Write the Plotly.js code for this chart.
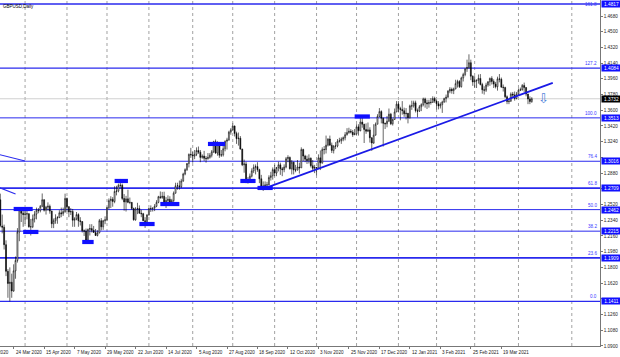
<!DOCTYPE html>
<html><head><meta charset="utf-8">
<script src="https://cdn.plot.ly/plotly-3.0.1.min.js"></script>
<style>html,body{margin:0;padding:0;background:#fff;}#chart{width:620px;height:357px;}</style>
</head><body><div id="chart"></div>
<script>
// ---- DATA (GBPUSD, Daily) ----
const dates = [
'2020-03-13','2020-03-16','2020-03-17','2020-03-18','2020-03-19','2020-03-20','2020-03-23','2020-03-24','2020-03-25','2020-03-26','2020-03-27','2020-03-30','2020-03-31',
'2020-04-01','2020-04-02','2020-04-03','2020-04-06','2020-04-07','2020-04-08','2020-04-09','2020-04-10','2020-04-13','2020-04-14','2020-04-15','2020-04-16','2020-04-17','2020-04-20','2020-04-21','2020-04-22','2020-04-23','2020-04-24','2020-04-27','2020-04-28','2020-04-29','2020-04-30',
'2020-05-01','2020-05-04','2020-05-05','2020-05-06','2020-05-07','2020-05-08','2020-05-11','2020-05-12','2020-05-13','2020-05-14','2020-05-15','2020-05-18','2020-05-19','2020-05-20','2020-05-21','2020-05-22','2020-05-25','2020-05-26','2020-05-27','2020-05-28','2020-05-29',
'2020-06-01','2020-06-02','2020-06-03','2020-06-04','2020-06-05','2020-06-08','2020-06-09','2020-06-10','2020-06-11','2020-06-12','2020-06-15','2020-06-16','2020-06-17','2020-06-18','2020-06-19','2020-06-22','2020-06-23','2020-06-24','2020-06-25','2020-06-26','2020-06-29','2020-06-30',
'2020-07-01','2020-07-02','2020-07-03','2020-07-06','2020-07-07','2020-07-08','2020-07-09','2020-07-10','2020-07-13','2020-07-14','2020-07-15','2020-07-16','2020-07-17','2020-07-20','2020-07-21','2020-07-22','2020-07-23','2020-07-24','2020-07-27','2020-07-28','2020-07-29','2020-07-30','2020-07-31',
'2020-08-03','2020-08-04','2020-08-05','2020-08-06','2020-08-07','2020-08-10','2020-08-11','2020-08-12','2020-08-13','2020-08-14','2020-08-17','2020-08-18','2020-08-19','2020-08-20','2020-08-21','2020-08-24','2020-08-25','2020-08-26','2020-08-27','2020-08-28','2020-08-31',
'2020-09-01','2020-09-02','2020-09-03','2020-09-04','2020-09-07','2020-09-08','2020-09-09','2020-09-10','2020-09-11','2020-09-14','2020-09-15','2020-09-16','2020-09-17','2020-09-18','2020-09-21','2020-09-22','2020-09-23','2020-09-24','2020-09-25','2020-09-28','2020-09-29','2020-09-30',
'2020-10-01','2020-10-02','2020-10-05','2020-10-06','2020-10-07','2020-10-08','2020-10-09','2020-10-12','2020-10-13','2020-10-14','2020-10-15','2020-10-16','2020-10-19','2020-10-20','2020-10-21','2020-10-22','2020-10-23','2020-10-26','2020-10-27','2020-10-28','2020-10-29','2020-10-30',
'2020-11-02','2020-11-03','2020-11-04','2020-11-05','2020-11-06','2020-11-09','2020-11-10','2020-11-11','2020-11-12','2020-11-13','2020-11-16','2020-11-17','2020-11-18','2020-11-19','2020-11-20','2020-11-23','2020-11-24','2020-11-25','2020-11-26','2020-11-27','2020-11-30',
'2020-12-01','2020-12-02','2020-12-03','2020-12-04','2020-12-07','2020-12-08','2020-12-09','2020-12-10','2020-12-11','2020-12-14','2020-12-15','2020-12-16','2020-12-17','2020-12-18','2020-12-21','2020-12-22','2020-12-23','2020-12-24','2020-12-28','2020-12-29','2020-12-30','2020-12-31',
'2021-01-04','2021-01-05','2021-01-06','2021-01-07','2021-01-08','2021-01-11','2021-01-12','2021-01-13','2021-01-14','2021-01-15','2021-01-18','2021-01-19','2021-01-20','2021-01-21','2021-01-22','2021-01-25','2021-01-26','2021-01-27','2021-01-28','2021-01-29',
'2021-02-01','2021-02-02','2021-02-03','2021-02-04','2021-02-05','2021-02-08','2021-02-09','2021-02-10','2021-02-11','2021-02-12','2021-02-15','2021-02-16','2021-02-17','2021-02-18','2021-02-19','2021-02-22','2021-02-23','2021-02-24','2021-02-25','2021-02-26',
'2021-03-01','2021-03-02','2021-03-03','2021-03-04','2021-03-05','2021-03-08','2021-03-09','2021-03-10','2021-03-11','2021-03-12','2021-03-15','2021-03-16','2021-03-17','2021-03-18','2021-03-19','2021-03-22','2021-03-23','2021-03-24','2021-03-25','2021-03-26','2021-03-29','2021-03-30','2021-03-31',
'2021-04-01','2021-04-02','2021-04-05','2021-04-06','2021-04-07','2021-04-08','2021-04-09','2021-04-12'];

const open = [
1.2575,1.2275,1.2260,1.2060,1.1755,1.1615,1.1630,1.1530,1.1760,1.1880,1.2205,1.2460,1.2420,
1.2405,1.2410,1.2415,1.2265,1.2265,1.2355,1.2410,1.2455,1.2450,1.2500,1.2575,1.2455,1.2490,1.2500,1.2445,1.2300,1.2335,1.2365,1.2370,1.2425,1.2415,1.2440,
1.2590,1.2495,1.2435,1.2440,1.2340,1.2355,1.2405,1.2335,1.2325,1.2220,1.2215,1.2110,1.2235,1.2245,1.2225,1.2200,1.2165,1.2195,1.2335,1.2265,1.2335,
1.2345,1.2485,1.2565,1.2580,1.2555,1.2670,1.2675,1.2740,1.2740,1.2590,1.2550,1.2585,1.2545,1.2545,1.2475,1.2345,1.2470,1.2475,1.2420,1.2415,1.2335,1.2325,
1.2400,1.2475,1.2475,1.2480,1.2500,1.2545,1.2610,1.2600,1.2615,1.2550,1.2565,1.2580,1.2545,1.2565,1.2650,1.2735,1.2735,1.2725,1.2790,1.2870,1.2920,1.2990,1.3095,
1.3090,1.3075,1.3095,1.3140,1.3120,1.3060,1.3075,1.3050,1.3045,1.3060,1.3085,1.3125,1.3240,1.3110,1.3225,1.3085,1.3090,1.3160,1.3245,1.3260,1.3350,
1.3375,1.3420,1.3335,1.3275,1.3280,1.3155,1.2975,1.2985,1.2790,1.2795,1.2845,1.2905,1.2945,1.2955,1.2920,1.2815,1.2730,1.2730,1.2745,1.2745,1.2830,1.2850,
1.2920,1.2880,1.2945,1.2975,1.2930,1.2920,1.2950,1.3045,1.3060,1.2930,1.3005,1.2915,1.2915,1.2950,1.2940,1.3150,1.3075,1.3040,1.3025,1.3050,1.2965,1.2935,
1.2945,1.2935,1.3055,1.2995,1.3150,1.3150,1.3200,1.3270,1.3200,1.3140,1.3190,1.3190,1.3245,1.3250,1.3270,1.3285,1.3320,1.3345,1.3360,1.3350,1.3320,
1.3330,1.3410,1.3365,1.3465,1.3440,1.3380,1.3360,1.3375,1.3285,1.3225,1.3315,1.3440,1.3530,1.3585,1.3510,1.3450,1.3445,1.3475,1.3555,1.3445,1.3495,1.3580,
1.3670,1.3620,1.3610,1.3595,1.3560,1.3565,1.3515,1.3650,1.3650,1.3685,1.3595,1.3590,1.3640,1.3665,1.3730,1.3685,1.3675,1.3690,1.3690,1.3735,
1.3705,1.3675,1.3650,1.3665,1.3695,1.3735,1.3750,1.3820,1.3840,1.3825,1.3845,1.3905,1.3930,1.3870,1.3970,1.4010,1.4075,1.4090,1.4145,1.3990,
1.3925,1.3935,1.3945,1.3965,1.3895,1.3835,1.3830,1.3890,1.3925,1.3965,1.3930,1.3900,1.3870,1.3960,1.3955,1.3865,1.3860,1.3755,1.3700,1.3705,1.3785,1.3775,1.3735,
1.3785,1.3830,1.3835,1.3885,1.3860,1.3785,1.3730,1.3700];

const high = [
1.2645,1.2405,1.2290,1.2110,1.1780,1.1800,1.1728,1.1835,1.1925,1.2250,1.2485,1.2485,1.2475,
1.2445,1.2460,1.2420,1.2355,1.2405,1.2445,1.2485,1.2480,1.2515,1.2647,1.2580,1.2505,1.2545,1.2520,1.2450,1.2360,1.2408,1.2387,1.2455,1.2485,1.2485,1.2645,
1.2600,1.2500,1.2480,1.2470,1.2375,1.2435,1.2420,1.2375,1.2330,1.2235,1.2245,1.2245,1.2295,1.2295,1.2275,1.2240,1.2225,1.2355,1.2365,1.2345,1.2385,
1.2495,1.2590,1.2615,1.2605,1.2730,1.2735,1.2760,1.2813,1.2760,1.2640,1.2620,1.2690,1.2600,1.2545,1.2485,1.2490,1.2540,1.2510,1.2460,1.2425,1.2375,1.2410,
1.2480,1.2510,1.2485,1.2525,1.2570,1.2620,1.2670,1.2665,1.2667,1.2605,1.2625,1.2615,1.2585,1.2670,1.2770,1.2770,1.2795,1.2815,1.2885,1.2935,1.2995,1.3105,1.3170,
1.3125,1.3145,1.3175,1.3185,1.3145,1.3095,1.3135,1.3075,1.3110,1.3110,1.3145,1.3250,1.3265,1.3245,1.3235,1.3145,1.3190,1.3255,1.3285,1.3365,1.3395,
1.3450,1.3425,1.3355,1.3345,1.3305,1.3160,1.3035,1.3010,1.2835,1.2875,1.2935,1.2980,1.2980,1.3005,1.2930,1.2860,1.2785,1.2785,1.2780,1.2855,1.2895,1.2945,
1.2975,1.2950,1.3010,1.3000,1.2950,1.2980,1.3065,1.3085,1.3070,1.3030,1.3010,1.2975,1.3030,1.3000,1.3175,1.3160,1.3090,1.3080,1.3095,1.3060,1.3030,1.2975,
1.2950,1.3095,1.3140,1.3175,1.3190,1.3310,1.3280,1.3310,1.3230,1.3200,1.3235,1.3270,1.3285,1.3290,1.3300,1.3350,1.3395,1.3400,1.3385,1.3375,1.3385,
1.3440,1.3440,1.3540,1.3540,1.3445,1.3450,1.3460,1.3405,1.3290,1.3440,1.3460,1.3555,1.3625,1.3600,1.3515,1.3460,1.3535,1.3620,1.3570,1.3505,1.3620,1.3705,
1.3705,1.3640,1.3705,1.3630,1.3625,1.3570,1.3665,1.3710,1.3710,1.3710,1.3620,1.3660,1.3680,1.3745,1.3745,1.3720,1.3720,1.3740,1.3760,1.3755,
1.3720,1.3705,1.3690,1.3710,1.3745,1.3780,1.3830,1.3865,1.3860,1.3860,1.3950,1.3950,1.3945,1.3985,1.4030,1.4080,1.4180,1.4241,1.4180,1.4000,
1.3990,1.3950,1.4010,1.4015,1.3915,1.3875,1.3915,1.3935,1.3975,1.3990,1.3955,1.3925,1.3985,1.4015,1.3975,1.3895,1.3870,1.3770,1.3730,1.3805,1.3810,1.3815,1.3810,
1.3850,1.3860,1.3900,1.3917,1.3865,1.3790,1.3760,1.3750];

const low = [
1.2260,1.2190,1.2005,1.1700,1.1452,1.1411,1.1452,1.1520,1.1670,1.1855,1.2100,1.2320,1.2265,
1.2300,1.2350,1.2255,1.2165,1.2250,1.2315,1.2350,1.2420,1.2430,1.2490,1.2440,1.2405,1.2450,1.2415,1.2250,1.2250,1.2300,1.2300,1.2365,1.2375,1.2390,1.2425,
1.2440,1.2375,1.2400,1.2265,1.2265,1.2340,1.2265,1.2280,1.2200,1.2160,1.2090,1.2075,1.2165,1.2200,1.2195,1.2160,1.2155,1.2190,1.2225,1.2230,1.2295,
1.2330,1.2465,1.2480,1.2495,1.2535,1.2625,1.2660,1.2715,1.2570,1.2450,1.2440,1.2535,1.2525,1.2460,1.2335,1.2335,1.2410,1.2415,1.2375,1.2330,1.2252,1.2290,
1.2395,1.2435,1.2440,1.2445,1.2490,1.2535,1.2585,1.2585,1.2520,1.2480,1.2525,1.2535,1.2505,1.2545,1.2645,1.2690,1.2690,1.2710,1.2780,1.2855,1.2905,1.2945,1.3055,
1.3000,1.3040,1.3075,1.3100,1.3005,1.3045,1.3020,1.3000,1.3035,1.3045,1.3060,1.3110,1.3100,1.3080,1.3055,1.3065,1.3070,1.3130,1.3150,1.3250,1.3320,
1.3365,1.3300,1.3215,1.3195,1.3150,1.2960,1.2885,1.2765,1.2760,1.2780,1.2830,1.2880,1.2865,1.2895,1.2765,1.2715,1.2676,1.2690,1.2695,1.2740,1.2795,1.2805,
1.2845,1.2845,1.2900,1.2860,1.2845,1.2890,1.2935,1.3005,1.2920,1.2865,1.2865,1.2890,1.2910,1.2875,1.2940,1.3015,1.3005,1.2985,1.2990,1.2945,1.2915,1.2880,
1.2855,1.2925,1.2915,1.2990,1.3095,1.3105,1.3185,1.3195,1.3110,1.3105,1.3155,1.3175,1.3230,1.3215,1.3245,1.3255,1.3310,1.3330,1.3335,1.3295,1.3315,
1.3320,1.3310,1.3360,1.3400,1.3225,1.3330,1.3350,1.3230,1.3135,1.3215,1.3310,1.3440,1.3520,1.3450,1.3185,1.3385,1.3405,1.3465,1.3430,1.3425,1.3490,1.3580,
1.3575,1.3485,1.3550,1.3525,1.3495,1.3450,1.3505,1.3605,1.3630,1.3575,1.3520,1.3580,1.3590,1.3645,1.3630,1.3615,1.3630,1.3665,1.3685,1.3685,
1.3610,1.3610,1.3620,1.3570,1.3685,1.3690,1.3745,1.3795,1.3790,1.3785,1.3840,1.3860,1.3855,1.3860,1.3930,1.3990,1.4040,1.4075,1.3945,1.3880,
1.3860,1.3855,1.3905,1.3885,1.3790,1.3780,1.3810,1.3870,1.3880,1.3895,1.3855,1.3850,1.3825,1.3920,1.3860,1.3815,1.3740,1.3670,1.3670,1.3695,1.3740,1.3710,1.3725,
1.3765,1.3820,1.3825,1.3810,1.3760,1.3670,1.3670,1.3685];

const close = [
1.2280,1.2260,1.2060,1.1755,1.1615,1.1630,1.1530,1.1760,1.1880,1.2205,1.2460,1.2420,1.2405,
1.2410,1.2415,1.2265,1.2265,1.2355,1.2410,1.2455,1.2450,1.2500,1.2575,1.2455,1.2490,1.2500,1.2445,1.2300,1.2335,1.2365,1.2370,1.2425,1.2415,1.2440,1.2590,
1.2495,1.2435,1.2440,1.2340,1.2355,1.2405,1.2335,1.2325,1.2220,1.2215,1.2110,1.2235,1.2245,1.2225,1.2200,1.2165,1.2195,1.2335,1.2265,1.2335,1.2345,
1.2485,1.2565,1.2580,1.2555,1.2670,1.2675,1.2740,1.2740,1.2590,1.2550,1.2585,1.2545,1.2545,1.2475,1.2345,1.2470,1.2475,1.2420,1.2415,1.2335,1.2325,1.2400,
1.2475,1.2475,1.2480,1.2500,1.2545,1.2610,1.2600,1.2615,1.2550,1.2565,1.2580,1.2545,1.2565,1.2650,1.2735,1.2735,1.2725,1.2790,1.2870,1.2920,1.2990,1.3095,1.3090,
1.3075,1.3095,1.3140,1.3120,1.3060,1.3075,1.3050,1.3045,1.3060,1.3085,1.3125,1.3240,1.3110,1.3225,1.3085,1.3090,1.3160,1.3245,1.3260,1.3350,1.3375,
1.3420,1.3335,1.3275,1.3280,1.3155,1.2975,1.2985,1.2790,1.2795,1.2845,1.2905,1.2945,1.2955,1.2920,1.2815,1.2730,1.2730,1.2745,1.2745,1.2830,1.2850,1.2920,
1.2880,1.2945,1.2975,1.2930,1.2920,1.2950,1.3045,1.3060,1.2930,1.3005,1.2915,1.2915,1.2950,1.2940,1.3150,1.3075,1.3040,1.3025,1.3050,1.2965,1.2935,1.2945,
1.2935,1.3055,1.2995,1.3150,1.3150,1.3200,1.3270,1.3200,1.3140,1.3190,1.3190,1.3245,1.3250,1.3270,1.3285,1.3320,1.3345,1.3360,1.3350,1.3320,1.3330,
1.3410,1.3365,1.3465,1.3440,1.3380,1.3360,1.3375,1.3285,1.3225,1.3315,1.3440,1.3530,1.3585,1.3510,1.3450,1.3445,1.3475,1.3555,1.3445,1.3495,1.3580,1.3670,
1.3620,1.3610,1.3595,1.3560,1.3565,1.3515,1.3650,1.3650,1.3685,1.3595,1.3590,1.3640,1.3665,1.3730,1.3685,1.3675,1.3690,1.3690,1.3735,1.3705,
1.3675,1.3650,1.3665,1.3695,1.3735,1.3750,1.3820,1.3840,1.3825,1.3845,1.3905,1.3930,1.3870,1.3970,1.4010,1.4075,1.4090,1.4145,1.3990,1.3925,
1.3935,1.3945,1.3965,1.3895,1.3835,1.3830,1.3890,1.3925,1.3965,1.3930,1.3900,1.3870,1.3960,1.3955,1.3865,1.3860,1.3755,1.3700,1.3705,1.3785,1.3775,1.3735,1.3785,
1.3830,1.3835,1.3885,1.3860,1.3785,1.3730,1.3700,1.3732];

const tickDates  = ['2020-03-24','2020-04-15','2020-05-07','2020-05-29','2020-06-22','2020-07-14','2020-08-05','2020-08-27','2020-09-18','2020-10-12','2020-11-03','2020-11-25','2020-12-17','2021-01-12','2021-02-03','2021-02-25','2021-03-19'];
const tickLabels = ['24 Mar 2020','15 Apr 2020','7 May 2020','29 May 2020','22 Jun 2020','14 Jul 2020','5 Aug 2020','27 Aug 2020','18 Sep 2020','12 Oct 2020','3 Nov 2020','25 Nov 2020','17 Dec 2020','12 Jan 2021','3 Feb 2021','25 Feb 2021','19 Mar 2021'];
const offscreenLabel = '2 Mar 2020';   // previous label, 16 bars before the first one
const yTicks = [1.0900,1.1080,1.1260,1.1440,1.1620,1.1800,1.1980,1.2160,1.2340,1.2520,1.2700,1.2880,1.3060,1.3240,1.3420,1.3600,1.3780,1.3960,1.4140,1.4320,1.4500,1.4680];

const fibLevels = [1.4817,1.4084,1.3513,1.3016,1.2709,1.2462,1.2215,1.1909,1.1411];
const fibNames  = ['161.8','127.2','100.0','76.4','61.8','50.0','38.2','23.6','0.0'];
const currentPrice = 1.3732;

// trend line (bar index, price)
const trendBars = [138, 290];
const trendPrices = [1.2700, 1.3913];
// older trend lines entering from the left
const oldLine1Bars = [-1, 13], oldLine1Prices = [1.3095, 1.3019];
const oldLine2Bars = [-1, 8],  oldLine2Prices = [1.2717, 1.2641];
// level boxes (start bar, end bar, price)
const boxStart = [7, 12, 43, 60, 73, 84, 109, 126, 135, 186];
const boxEnd   = [17, 20, 49, 67, 81, 94, 118, 134, 143, 194];
const boxPrice = [1.2469, 1.2206, 1.2091, 1.2790, 1.2297, 1.2526, 1.3214, 1.2790, 1.2710, 1.3529];
const arrowBar = 285;
const extraSeparatorBar = 300;

// ---- STYLES ----
const FONT = 'Liberation Sans, Arial, sans-serif';
const BLUE = '#2a2aee';
const fibWidths = [1.6, 1.2, 1.0, 1.2, 1.8, 1.0, 1.0, 1.8, 1.2];
const AXFONT = {family: FONT, size: 4.6, color: '#222'};

const idx = dates.map((d, i) => i);
const xRange = [-0.16, 314.8];
const yRange = [1.08995, 1.48633];

const traces = [
  {type: 'candlestick', x: idx, open: open, high: high, low: low, close: close,
   increasing: {line: {color: '#000', width: 0.6}, fillcolor: '#ffffff'},
   decreasing: {line: {color: '#000', width: 0.6}, fillcolor: '#000000'},
   whiskerwidth: 0, hoverinfo: 'skip', showlegend: false},
  {type: 'scatter', mode: 'lines', x: trendBars, y: trendPrices, line: {color: '#1a1ae6', width: 1.8}, hoverinfo: 'skip', showlegend: false},
  {type: 'scatter', mode: 'lines', x: oldLine1Bars, y: oldLine1Prices, line: {color: '#2a2aee', width: 1.2}, hoverinfo: 'skip', showlegend: false},
  {type: 'scatter', mode: 'lines', x: oldLine2Bars, y: oldLine2Prices, line: {color: '#2a2aee', width: 1.2}, hoverinfo: 'skip', showlegend: false}
];

const shapes = [];
let prevMonth = dates[0].slice(0, 7);
dates.forEach((d, i) => {
  const m = d.slice(0, 7);
  if (m !== prevMonth) {
    shapes.push({type: 'line', xref: 'x', yref: 'paper', x0: i, x1: i, y0: 0, y1: 1, line: {color: '#8a8a8a', width: 0.8, dash: 'dot'}, layer: 'below'});
  }
  prevMonth = m;
});
shapes.push({type: 'line', xref: 'x', yref: 'paper', x0: extraSeparatorBar, x1: extraSeparatorBar, y0: 0, y1: 1, line: {color: '#8a8a8a', width: 0.8, dash: 'dot'}, layer: 'below'});
shapes.push({type: 'line', xref: 'paper', yref: 'y', x0: 0, x1: 1, y0: currentPrice, y1: currentPrice, line: {color: '#c4c4c4', width: 0.8}, layer: 'below'});
fibLevels.forEach((p, i) => {
  shapes.push({type: 'line', xref: 'paper', yref: 'y', x0: 0, x1: 1, y0: p, y1: p, line: {color: BLUE, width: fibWidths[i]}, layer: 'below'});
});
boxPrice.forEach((p, i) => {
  shapes.push({type: 'rect', xref: 'x', yref: 'y', x0: boxStart[i], x1: boxEnd[i], y0: p - 0.0024, y1: p + 0.0024, fillcolor: '#1010ff', line: {width: 0}, layer: 'above'});
});

const annotations = [];
fibLevels.forEach((p, i) => {
  // level name just above its line; the topmost one sits against the top edge so it stays visible
  const nearTop = (yRange[1] - p) < 0.006;
  annotations.push(nearTop
    ? {xref: 'paper', yref: 'paper', x: 1, y: 1, xanchor: 'right', yanchor: 'top', xshift: -1, yshift: 0, text: fibNames[i], showarrow: false, font: {family: FONT, size: 4.6, color: '#3a3aff'}}
    : {xref: 'paper', yref: 'y', x: 1, y: p, xanchor: 'right', yanchor: 'bottom', xshift: -1, text: fibNames[i], showarrow: false, font: {family: FONT, size: 4.6, color: '#3a3aff'}});
  annotations.push({xref: 'paper', yref: 'y', x: 1, y: p, xanchor: 'left', yanchor: 'middle', xshift: 1, text: p.toFixed(4), showarrow: false, bgcolor: '#1010ff', width: 18, height: 5, borderpad: 0.5, font: {family: FONT, size: 4.8, color: '#ffffff'}});
});
annotations.push({xref: 'paper', yref: 'y', x: 1, y: currentPrice, xanchor: 'left', yanchor: 'middle', xshift: 1, text: currentPrice.toFixed(4), showarrow: false, bgcolor: '#000000', width: 18, height: 5, borderpad: 0.5, font: {family: FONT, size: 4.8, color: '#ffffff'}});
annotations.push({xref: 'x', yref: 'y', x: arrowBar, y: currentPrice, text: '\u21E9', showarrow: false, font: {family: 'DejaVu Sans', size: 13, color: '#4f7fd8'}});
annotations.push({xref: 'paper', yref: 'paper', x: 0, y: 1, xanchor: 'left', yanchor: 'top', xshift: 1, yshift: -2, text: 'GBPUSD,Daily', showarrow: false, font: {family: FONT, size: 4.5, color: '#000'}});

// x-axis labels, text starting just right of each tick (terminal style)
const tickIdx = tickDates.map(d => dates.indexOf(d));
tickIdx.forEach((t, k) => {
  annotations.push({xref: 'x', yref: 'paper', x: t, y: 0, xanchor: 'left', yanchor: 'top', xshift: 0, yshift: -1.5, text: tickLabels[k], showarrow: false, font: AXFONT});
});
const labelStep = tickIdx[1] - tickIdx[0];
const offX = (tickIdx[0] - labelStep - xRange[0]) / (xRange[1] - xRange[0]);
annotations.push({xref: 'paper', yref: 'paper', x: offX, y: 0, xanchor: 'left', yanchor: 'top', yshift: -1.5, text: offscreenLabel, showarrow: false, font: AXFONT});

// hide regular price ticks hidden behind the boxed level labels
const boxed = fibLevels.concat([currentPrice]);
const yTickText = yTicks.map(v => boxed.some(b => Math.abs(b - v) < 0.0046) ? '' : v.toFixed(4));

const layout = {
  width: 620, height: 357,
  margin: {l: 0, r: 20, t: 0, b: 11, pad: 0},
  paper_bgcolor: '#ffffff', plot_bgcolor: '#ffffff',
  showlegend: false,
  xaxis: {type: 'linear', range: xRange, showgrid: false, zeroline: false, showline: true, linecolor: '#555', linewidth: 0.8,
          tickvals: tickIdx, ticktext: tickIdx.map(() => ''), ticks: 'outside', ticklen: 2, tickcolor: '#555', tickwidth: 0.8,
          rangeslider: {visible: false}, fixedrange: true},
  yaxis: {side: 'right', range: yRange, showgrid: false, zeroline: false, showline: true, linecolor: '#555', linewidth: 0.8,
          tickvals: yTicks, ticktext: yTickText, ticks: 'outside', ticklen: 2, tickcolor: '#555', tickwidth: 0.8,
          tickfont: AXFONT, fixedrange: true},
  shapes: shapes,
  annotations: annotations
};

Plotly.newPlot('chart', traces, layout, {staticPlot: true, displayModeBar: false});
</script>
</body></html>
